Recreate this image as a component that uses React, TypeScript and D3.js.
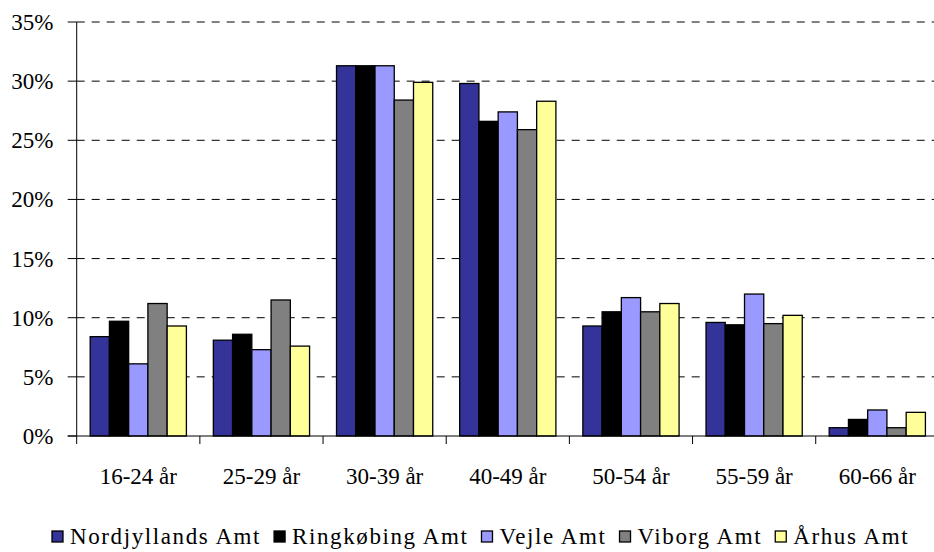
import React, { useEffect, useRef } from 'react';
import * as d3 from 'd3';

// Age groups on the x axis
const categories = ['16-24 år', '25-29 år', '30-39 år', '40-49 år', '50-54 år', '55-59 år', '60-66 år'];

// One series per county (percent)
const seriesNames = ['Nordjyllands Amt', 'Ringkøbing Amt', 'Vejle Amt', 'Viborg Amt', 'Århus Amt'];
const nordjyllands = [8.4, 8.1, 31.3, 29.8, 9.3, 9.6, 0.7];
const ringkobing = [9.7, 8.6, 31.3, 26.6, 10.5, 9.4, 1.4];
const vejle = [6.1, 7.3, 31.3, 27.4, 11.7, 12.0, 2.2];
const viborg = [11.2, 11.5, 28.4, 25.9, 10.5, 9.5, 0.7];
const aarhus = [9.3, 7.6, 29.9, 28.3, 11.2, 10.2, 2.0];

const yTicks = [0, 5, 10, 15, 20, 25, 30, 35];

const seriesColors = ['#333399', '#000000', '#9999ff', '#808080', '#ffff99'];

export default function App() {
  const svgRef = useRef<SVGSVGElement>(null);

  useEffect(() => {
    if (!svgRef.current) return;
    const width = 934;
    const height = 552;
    const font = "'Liberation Serif', serif";

    const svg = d3.select(svgRef.current);
    svg.selectAll('*').remove();
    svg.attr('width', width).attr('height', height);

    const series = [nordjyllands, ringkobing, vejle, viborg, aarhus];

    // plot area (right side is cut off by the picture edge, as in the original)
    const left = 76.7;
    const catWidth = 123.17;
    const x0 = d3.scaleBand<string>()
      .domain(categories)
      .range([left, left + catWidth * categories.length])
      .paddingInner(0)
      .paddingOuter(0);

    // gap width 140% => bars take 5/6.4 of the category
    const gapFrac = 0.7 / 6.4;
    const x1 = d3.scaleBand<string>()
      .domain(seriesNames)
      .range([x0.bandwidth() * gapFrac, x0.bandwidth() * (1 - gapFrac)])
      .padding(0);

    const y = d3.scaleLinear().domain([0, 35]).range([436, 22]);

    const g = svg.append('g');

    // dashed gridlines
    g.selectAll('line.grid')
      .data(yTicks.filter(t => t > 0))
      .enter().append('line')
      .attr('class', 'grid')
      .attr('x1', left)
      .attr('x2', width)
      .attr('y1', d => y(d))
      .attr('y2', d => y(d))
      .attr('stroke', '#000')
      .attr('stroke-width', 1)
      .attr('stroke-dasharray', '8,7');

    // bars
    seriesNames.forEach((name, si) => {
      g.append('g')
        .selectAll('rect')
        .data(series[si])
        .enter().append('rect')
        .attr('x', (d, i) => (x0(categories[i]) ?? 0) + (x1(name) ?? 0))
        .attr('y', d => y(d))
        .attr('width', x1.bandwidth())
        .attr('height', d => y(0) - y(d))
        .attr('fill', seriesColors[si])
        .attr('stroke', '#000')
        .attr('stroke-width', 1.3);
    });

    // y axis
    g.append('line')
      .attr('x1', left).attr('x2', left)
      .attr('y1', y(35)).attr('y2', y(0) + 8)
      .attr('stroke', '#000');
    g.selectAll('line.ytick')
      .data(yTicks)
      .enter().append('line')
      .attr('class', 'ytick')
      .attr('x1', left - 9).attr('x2', left)
      .attr('y1', d => y(d)).attr('y2', d => y(d))
      .attr('stroke', '#000');
    g.selectAll('text.ylabel')
      .data(yTicks)
      .enter().append('text')
      .attr('class', 'ylabel')
      .attr('x', 53.5)
      .attr('y', d => y(d))
      .attr('dy', '0.35em')
      .attr('text-anchor', 'end')
      .style('font-family', font)
      .style('font-size', '23px')
      .text(d => `${d}%`);

    // x axis
    g.append('line')
      .attr('x1', left - 9).attr('x2', width)
      .attr('y1', y(0)).attr('y2', y(0))
      .attr('stroke', '#000');
    g.selectAll('line.xtick')
      .data(categories.slice(1))
      .enter().append('line')
      .attr('class', 'xtick')
      .attr('x1', d => x0(d) ?? 0).attr('x2', d => x0(d) ?? 0)
      .attr('y1', y(0)).attr('y2', y(0) + 8)
      .attr('stroke', '#000');
    g.selectAll('text.xlabel')
      .data(categories)
      .enter().append('text')
      .attr('class', 'xlabel')
      .attr('x', d => (x0(d) ?? 0) + x0.bandwidth() / 2)
      .attr('y', 484)
      .attr('text-anchor', 'middle')
      .style('font-family', font)
      .style('font-size', '23px')
      .text(d => d);

    // legend, laid out left to right
    const legend = g.append('g');
    let lx = 52;
    seriesNames.forEach((name, si) => {
      legend.append('rect')
        .attr('x', lx)
        .attr('y', 531)
        .attr('width', 11)
        .attr('height', 11)
        .attr('fill', seriesColors[si])
        .attr('stroke', '#000')
        .attr('stroke-width', 1.3);
      const t = legend.append('text')
        .attr('x', lx + 18)
        .attr('y', 544)
        .style('font-family', font)
        .style('font-size', '23px')
        .style('letter-spacing', '1.6px')
        .text(name);
      const w = (t.node() as SVGTextElement).getComputedTextLength();
      lx += 18 + w + 13;
    });
  }, []);

  return (
    <div style={{ position: 'absolute', left: 0, top: 0, width: 934, height: 552, background: '#fff' }}>
      <svg ref={svgRef} style={{ display: 'block' }}></svg>
    </div>
  );
}
